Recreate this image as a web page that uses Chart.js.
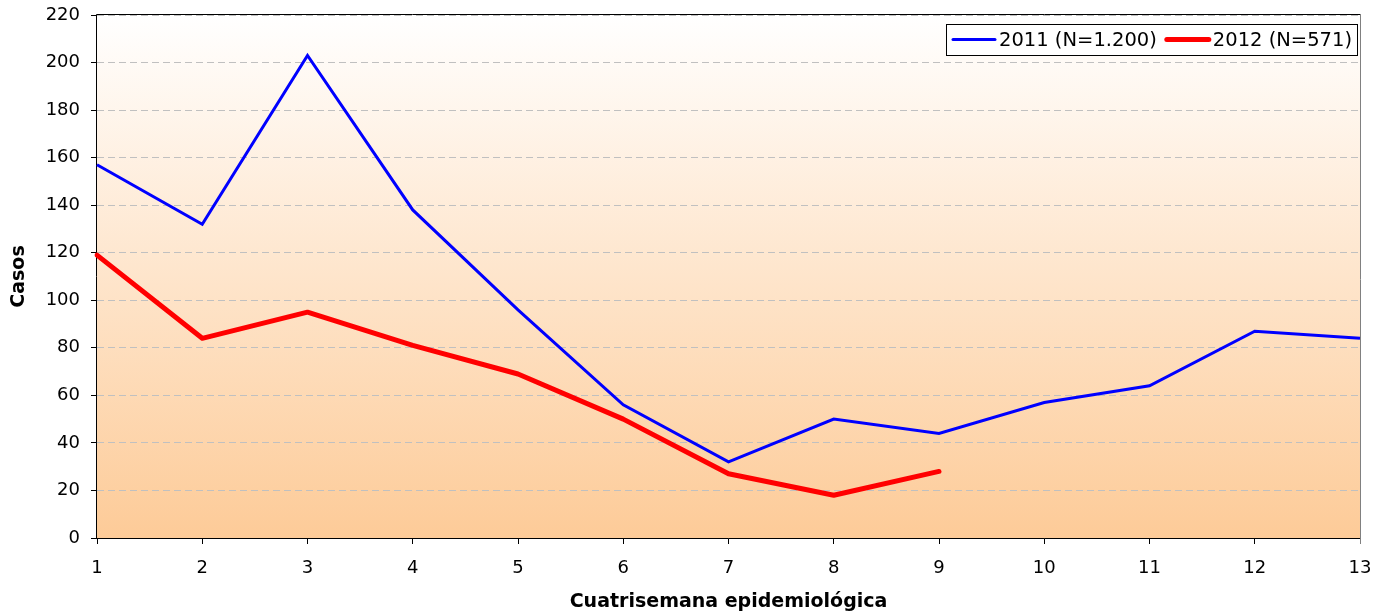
<!DOCTYPE html>
<html>
<head>
<meta charset="utf-8">
<script src="https://cdn.jsdelivr.net/npm/chart.js@4"></script>
<style>
html,body{margin:0;padding:0;background:#fff;}
#wrap{width:1386px;height:613px;position:relative;}
</style>
</head>
<body>
<div id="wrap"><canvas id="c" width="1386" height="613"></canvas></div>
<script>
const categories = ['1','2','3','4','5','6','7','8','9','10','11','12','13'];
const series2011 = [157, 132, 203, 138, 96, 56, 32, 50, 44, 57, 64, 87, 84];
const series2012 = [119, 84, 95, 81, 69, 50, 27, 18, 28];
const seriesLabels = ['2011 (N=1.200)', '2012 (N=571)'];
const yTitle = 'Casos';
const xTitle = 'Cuatrisemana epidemiológica';

const FONT = "'DejaVu Sans', Verdana, sans-serif";

const bgPlugin = {
  id: 'bg',
  beforeDraw(chart) {
    const {ctx, chartArea: a} = chart;
    ctx.save();
    ctx.fillStyle = '#fff';
    ctx.fillRect(0, 0, chart.width, chart.height);
    const g = ctx.createLinearGradient(0, a.top, 0, a.bottom);
    g.addColorStop(0, '#ffffff');
    g.addColorStop(1, '#fdcb98');
    ctx.fillStyle = g;
    ctx.fillRect(a.left, a.top, a.right - a.left, a.bottom - a.top);
    ctx.restore();
  },
  beforeDatasetsDraw(chart) {
    const {ctx, chartArea: a} = chart;
    ctx.save();
    ctx.lineWidth = 1;
    ctx.strokeStyle = '#808080';
    ctx.beginPath();
    ctx.moveTo(a.right + 0.5, a.top);
    ctx.lineTo(a.right + 0.5, a.bottom + 6);
    ctx.stroke();
    ctx.strokeStyle = '#000';
    ctx.beginPath();
    ctx.moveTo(a.left - 0.5, a.bottom + 0.5);
    ctx.lineTo(a.left - 0.5, a.top - 0.5);
    ctx.lineTo(a.right + 0.5, a.top - 0.5);
    ctx.moveTo(a.left - 0.5, a.bottom + 0.5);
    ctx.lineTo(a.right, a.bottom + 0.5);
    ctx.stroke();
    ctx.restore();
  },
  afterDraw(chart) {
    const {ctx, chartArea: a} = chart;
    ctx.save();
    ctx.font = '19.5px ' + FONT;
    const lineLen = 42, padL = 7, gap = 4, itemGap = 10, padR = 5;
    const ds = chart.data.datasets;
    let w = padL;
    const widths = ds.map(d => ctx.measureText(d.label).width);
    ds.forEach((d, i) => { w += lineLen + gap + widths[i] + (i < ds.length - 1 ? itemGap : 0); });
    w += padR;
    const h = 31;
    const right = a.right - 3, top = a.top + 9;
    const left = right - w;
    ctx.fillStyle = '#fff';
    ctx.fillRect(left, top, w, h);
    ctx.strokeStyle = '#000';
    ctx.lineWidth = 1;
    ctx.strokeRect(Math.round(left) + 0.5, top + 0.5, Math.round(w), h);
    let x = left + padL;
    const cy = top + h / 2;
    ds.forEach((d, i) => {
      ctx.strokeStyle = d.borderColor;
      ctx.lineWidth = d.borderWidth;
      ctx.lineCap = 'round';
      ctx.beginPath();
      ctx.moveTo(x, cy);
      ctx.lineTo(x + lineLen, cy);
      ctx.stroke();
      x += lineLen + gap;
      ctx.fillStyle = '#000';
      ctx.textBaseline = 'middle';
      ctx.fillText(d.label, x, cy + 1);
      x += widths[i] + itemGap;
    });
    ctx.restore();
  }
};

new Chart(document.getElementById('c'), {
  type: 'line',
  data: {
    labels: categories,
    datasets: [
      { label: seriesLabels[0], data: series2011, borderColor: '#0000ff', borderWidth: 3,
        pointRadius: 0, tension: 0, fill: false, borderJoinStyle: 'miter' },
      { label: seriesLabels[1], data: series2012, borderColor: '#ff0000', borderWidth: 5,
        pointRadius: 0, tension: 0, fill: false, borderCapStyle: 'round', borderJoinStyle: 'round' }
    ]
  },
  options: {
    responsive: false,
    animation: false,
    devicePixelRatio: 1,
    layout: { padding: { top: 15, right: 26, left: 0, bottom: 0 } },
    plugins: { legend: { display: false }, tooltip: { enabled: false } },
    scales: {
      x: {
        type: 'category',
        offset: false,
        afterFit(s) { s.height = 75; s.paddingLeft = 0; s.paddingRight = 0; },
        grid: { drawOnChartArea: false, drawTicks: true, tickLength: 6, tickColor: '#000', color: '#000' },
        border: { display: false },
        ticks: { color: '#000', font: { family: FONT, size: 18 }, padding: 14, maxRotation: 0, autoSkip: false },
        title: { display: true, text: xTitle, color: '#000', font: { family: FONT, size: 19, weight: 'bold' }, padding: { top: 0, bottom: 0 } }
      },
      y: {
        min: 0, max: 220,
        afterFit(s) { s.width = 97; s.paddingTop = 0; s.paddingBottom = 0; },
        grid: { color: '#c0c0c0', lineWidth: 1, drawTicks: true, tickLength: 6, tickColor: '#000' },
        border: { display: false, dash: [7, 4] },
        ticks: { stepSize: 20, color: '#000', font: { family: FONT, size: 18 }, padding: 11 },
        title: { display: true, text: yTitle, color: '#000', font: { family: FONT, size: 19, weight: 'bold' }, padding: { top: 8, bottom: 0 } }
      }
    }
  },
  plugins: [bgPlugin]
});
</script>
</body>
</html>
